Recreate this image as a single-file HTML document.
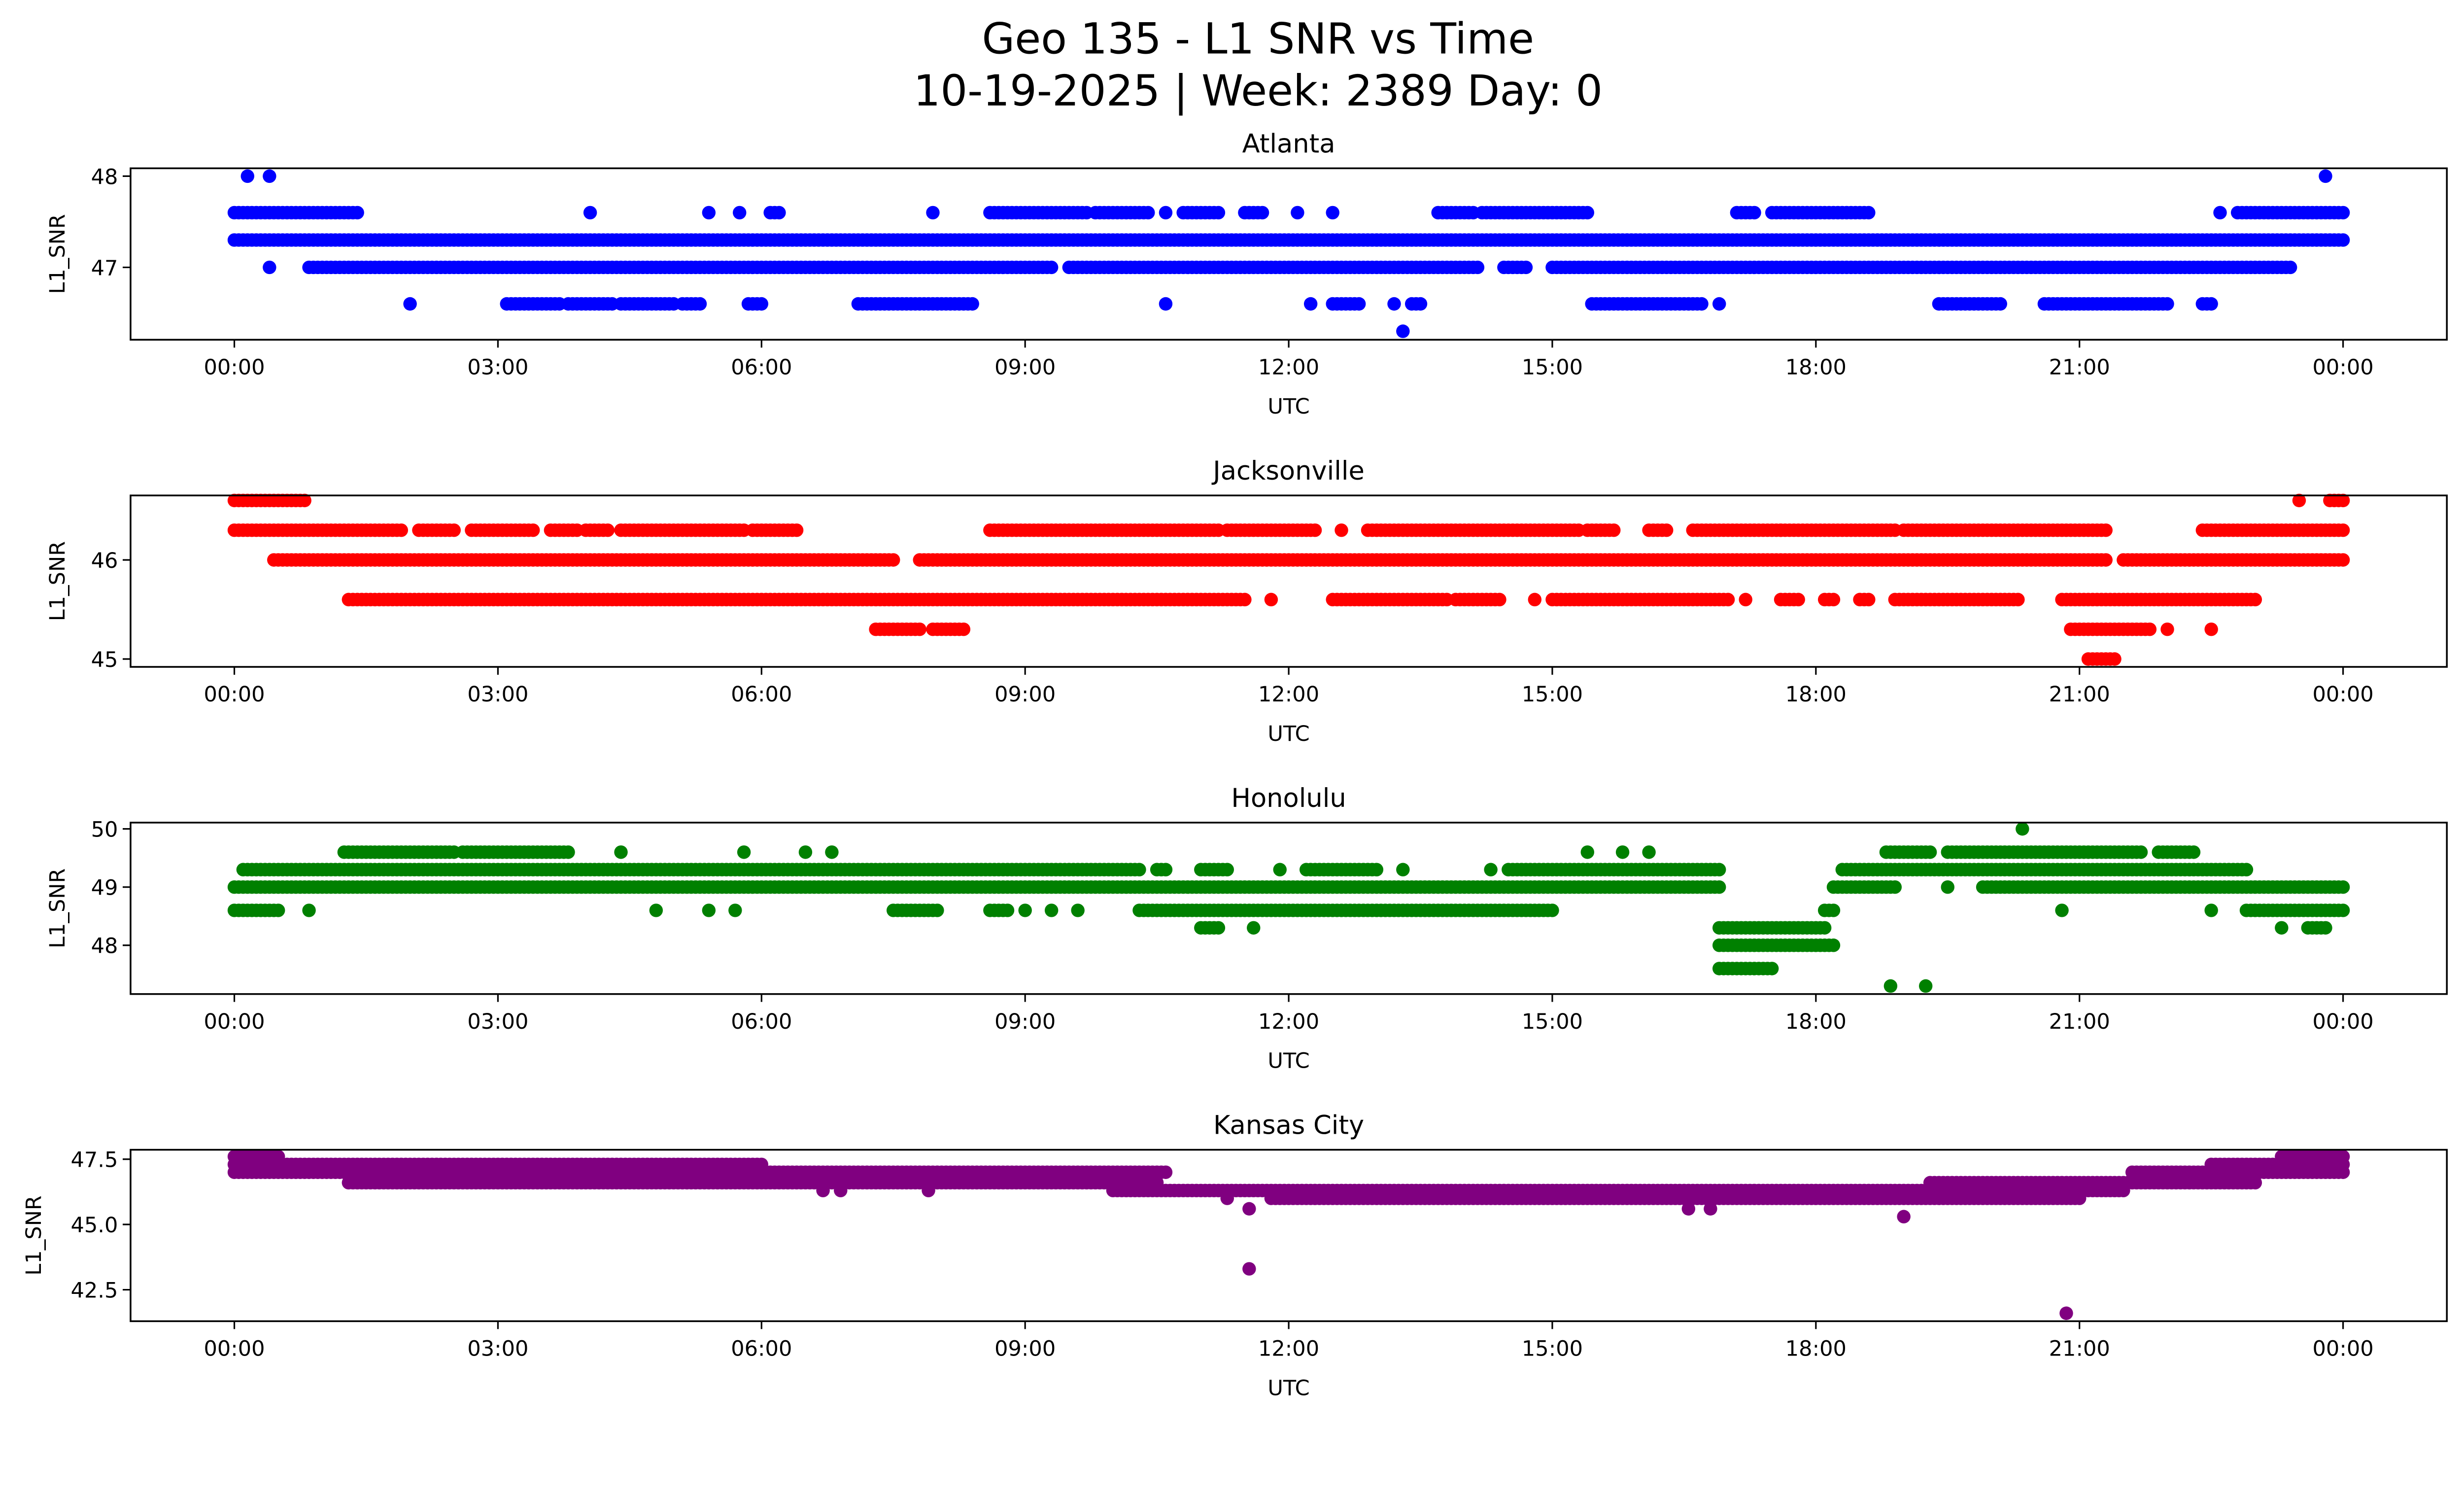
<!DOCTYPE html>
<html><head><meta charset="utf-8"><style>
html,body{margin:0;padding:0;background:#fff;overflow:hidden;width:5278px;height:3033px;}
svg{display:block;font-family:"DejaVu Sans","Liberation Sans",sans-serif;}
</style></head>
<body>
<svg id="fig" width="5278" height="3033" viewBox="0 0 1654 950.5" xmlns="http://www.w3.org/2000/svg">
<rect width="1654" height="950.5" fill="#fff"/>
<text x="800" y="34" font-size="27" text-anchor="middle">Geo 135 - L1 SNR vs Time</text>
<text x="800" y="67" font-size="27" text-anchor="middle">10-19-2025 | Week: 2389 Day: 0</text>
<g id="plots"></g>
</svg>
<script>
// Shared x ticks (hours)
const tickHours = [0,3,6,9,12,15,18,21,24];
const tickLabels = ["00:00","03:00","06:00","09:00","12:00","15:00","18:00","21:00","00:00"];

// Atlanta runs: start hour, end hour, SNR value
const atlStart = [0,0,4.05,5.4,5.75,6.1,7.95,8.6,9.8,10.6,10.8,11.5,12.1,12.5,13.7,14.2,17.1,17.5,22.6,22.8, 0.4,0.85,9.5,14.45,15.0, 2.0,3.1,3.8,4.4,5.1,5.85,7.1,10.6,12.25,12.5,13.2,13.4,15.45,16.9,19.4,20.6,22.4, 0.15,0.4,23.8, 13.3];
const atlEnd   = [24,1.4,4.05,5.4,5.75,6.2,7.95,9.7,10.4,10.6,11.2,11.7,12.1,12.5,14.1,15.4,17.3,18.6,22.6,24, 0.4,9.3,14.15,14.7,23.4, 2.0,3.7,4.3,5.0,5.3,6.0,8.4,10.6,12.25,12.8,13.2,13.5,16.7,16.9,20.1,22.0,22.5, 0.15,0.4,23.8, 13.3];
const atlValue = [47.3,47.6,47.6,47.6,47.6,47.6,47.6,47.6,47.6,47.6,47.6,47.6,47.6,47.6,47.6,47.6,47.6,47.6,47.6,47.6, 47.0,47.0,47.0,47.0,47.0, 46.6,46.6,46.6,46.6,46.6,46.6,46.6,46.6,46.6,46.6,46.6,46.6,46.6,46.6,46.6,46.6,46.6, 48,48,48, 46.3];

// Jacksonville runs
const jaxStart = [0,23.5,23.85, 0,2.1,2.7,3.6,4.0,4.4,5.9,8.6,11.3,12.6,12.9,15.4,16.1,16.6,17.6,19.0,22.4, 0.45,7.8,21.5, 1.3,11.8,12.5,13.9,14.8,15.0,17.2,17.6,18.1,18.5,18.9,20.8, 7.3,7.95,20.9,22.0,22.5, 21.1];
const jaxEnd   = [0.8,23.5,24, 1.9,2.5,3.4,3.9,4.25,5.8,6.4,11.2,12.3,12.6,15.3,15.7,16.3,17.6,18.9,21.3,24, 7.5,21.3,24, 11.5,11.8,13.8,14.4,14.8,17.0,17.2,17.8,18.2,18.6,20.3,23.0, 7.8,8.3,21.8,22.0,22.5, 21.4];
const jaxValue = [46.6,46.6,46.6, 46.3,46.3,46.3,46.3,46.3,46.3,46.3,46.3,46.3,46.3,46.3,46.3,46.3,46.3,46.3,46.3,46.3, 46.0,46.0,46.0, 45.6,45.6,45.6,45.6,45.6,45.6,45.6,45.6,45.6,45.6,45.6,45.6, 45.3,45.3,45.3,45.3,45.3, 45.0];

// Honolulu runs
const honStart = [0.1,10.5,11.0,11.9,12.2,13.3,14.3,14.5,18.3, 0,18.2,19.5,19.9, 0,0.85,4.8,5.4,5.7,7.5,8.6,9.0,9.3,9.6,10.3,18.1,20.8,22.5,22.9, 1.25,2.6,4.4,5.8,6.5,6.8,15.4,15.8,16.1,18.8,19.5,21.9, 11.0,11.6,16.9,23.3,23.6, 16.9, 16.9, 18.85,19.25, 20.35];
const honEnd   = [10.3,10.6,11.3,11.9,13.0,13.3,14.3,16.9,22.9, 16.9,18.9,19.5,24, 0.5,0.85,4.8,5.4,5.7,8.0,8.8,9.0,9.3,9.6,15.0,18.2,20.8,22.5,24, 2.5,3.8,4.4,5.8,6.5,6.8,15.4,15.8,16.1,19.3,21.7,22.3, 11.2,11.6,18.1,23.3,23.8, 18.2, 17.5, 18.85,19.25, 20.35];
const honValue = [49.3,49.3,49.3,49.3,49.3,49.3,49.3,49.3,49.3, 49,49,49,49, 48.6,48.6,48.6,48.6,48.6,48.6,48.6,48.6,48.6,48.6,48.6,48.6,48.6,48.6,48.6, 49.6,49.6,49.6,49.6,49.6,49.6,49.6,49.6,49.6,49.6,49.6,49.6, 48.3,48.3,48.3,48.3,48.3, 48.0, 47.6, 47.3,47.3, 50];

// Kansas City runs
const kcStart = [0,23.3, 0,22.5, 0,21.6, 1.3,19.3, 6.7,6.9,7.9,10.0, 11.3,11.8, 11.55,16.55,16.8, 19.0, 11.55, 20.85];
const kcEnd   = [0.5,24, 6.0,24, 10.6,24, 10.5,23.0, 6.7,6.9,7.9,21.5, 11.3,21.0, 11.55,16.55,16.8, 19.0, 11.55, 20.85];
const kcValue = [47.6,47.6, 47.3,47.3, 47.0,47.0, 46.6,46.6, 46.3,46.3,46.3,46.3, 46.0,46.0, 45.6,45.6,45.6, 45.3, 43.3, 41.6];

const NS="http://www.w3.org/2000/svg";
const X0=83, X1=1556, H0=149, H24=1490;
function xScale(h){return H0+(H24-H0)*h/24;}

function panel(cfg, top, bottom){
  const g=document.createElementNS(NS,'g');
  
  
  document.getElementById('plots').appendChild(g);
  const yScale=v=>cfg.py0+(v-cfg.v0)*(cfg.py1-cfg.py0)/(cfg.v1-cfg.v0);
  const dots=document.createElementNS(NS,'g');
  
  
  dots.setAttribute('fill',cfg.color);
  g.appendChild(dots);
  for(let i=0;i<cfg.s.length;i++){
    const y=yScale(cfg.v[i]);
    for(let h=cfg.s[i]; h<=cfg.e[i]+1e-9; h+=0.05){
      const c=document.createElementNS(NS,'circle');
      c.setAttribute('cx',xScale(h).toFixed(2));
      c.setAttribute('cy',y.toFixed(2));
      c.setAttribute('r',4.3);
      dots.appendChild(c);
    }
  }
  const r=document.createElementNS(NS,'rect');
  
  
  r.setAttribute('x',X0);r.setAttribute('y',top);r.setAttribute('width',X1-X0);r.setAttribute('height',bottom-top);
  r.setAttribute('fill','none');r.setAttribute('stroke','#000');r.setAttribute('stroke-width',1.1);
  g.appendChild(r);
  for(let i=0;i<tickHours.length;i++){
    const x=xScale(tickHours[i]);
    const l=document.createElementNS(NS,'line');
    l.setAttribute('x1',x);l.setAttribute('x2',x);l.setAttribute('y1',bottom);l.setAttribute('y2',bottom+5);
    l.setAttribute('stroke','#000');l.setAttribute('stroke-width',1);
    g.appendChild(l);
    const t=document.createElementNS(NS,'text');
    
    
    t.setAttribute('x',x);t.setAttribute('y',bottom+22);t.setAttribute('font-size',13.5);t.setAttribute('text-anchor','middle');
    t.textContent=tickLabels[i];
    g.appendChild(t);
  }
  for(let i=0;i<cfg.yt.length;i++){
    const y=yScale(cfg.yt[i]);
    const l=document.createElementNS(NS,'line');
    l.setAttribute('x1',X0-5);l.setAttribute('x2',X0);l.setAttribute('y1',y);l.setAttribute('y2',y);
    l.setAttribute('stroke','#000');l.setAttribute('stroke-width',1);
    g.appendChild(l);
    const t=document.createElementNS(NS,'text');
    
    
    t.setAttribute('x',X0-8);t.setAttribute('y',y+5);t.setAttribute('font-size',13.5);t.setAttribute('text-anchor','end');
    t.textContent=cfg.ytl[i];
    g.appendChild(t);
  }
  const tt=document.createElementNS(NS,'text');
  
  
  tt.setAttribute('x',(X0+X1)/2);tt.setAttribute('y',top-10);tt.setAttribute('font-size',16.5);tt.setAttribute('text-anchor','middle');
  tt.textContent=cfg.title;g.appendChild(tt);
  const xl=document.createElementNS(NS,'text');
  
  
  xl.setAttribute('x',(X0+X1)/2);xl.setAttribute('y',bottom+47);xl.setAttribute('font-size',13.5);xl.setAttribute('text-anchor','middle');
  xl.textContent='UTC';g.appendChild(xl);
  const yl=document.createElementNS(NS,'text');
  
  
  const cy=(top+bottom)/2, cx=cfg.ylx;
  yl.setAttribute('x',cx);yl.setAttribute('y',cy);yl.setAttribute('font-size',13.5);yl.setAttribute('text-anchor','middle');
  yl.setAttribute('transform','rotate(-90 '+cx+' '+cy+')');
  yl.textContent='L1_SNR';g.appendChild(yl);
}

panel({name:'atlanta',title:'Atlanta',color:'#0000ff',s:atlStart,e:atlEnd,v:atlValue,v0:48,v1:47,py0:112,py1:170,yt:[47,48],ytl:['47','48'],ylx:41},107,216);
panel({name:'jacksonville',title:'Jacksonville',color:'#ff0000',s:jaxStart,e:jaxEnd,v:jaxValue,v0:46,v1:45,py0:356,py1:419,yt:[45,46],ytl:['45','46'],ylx:41},315,424);
panel({name:'honolulu',title:'Honolulu',color:'#008000',s:honStart,e:honEnd,v:honValue,v0:50,v1:48,py0:527,py1:601,yt:[48,49,50],ytl:['48','49','50'],ylx:41},523,632);
panel({name:'kansas-city',title:'Kansas City',color:'#800080',s:kcStart,e:kcEnd,v:kcValue,v0:47.5,v1:42.5,py0:737,py1:820,yt:[42.5,45,47.5],ytl:['42.5','45.0','47.5'],ylx:26},731,840);
</script>
</body></html>
